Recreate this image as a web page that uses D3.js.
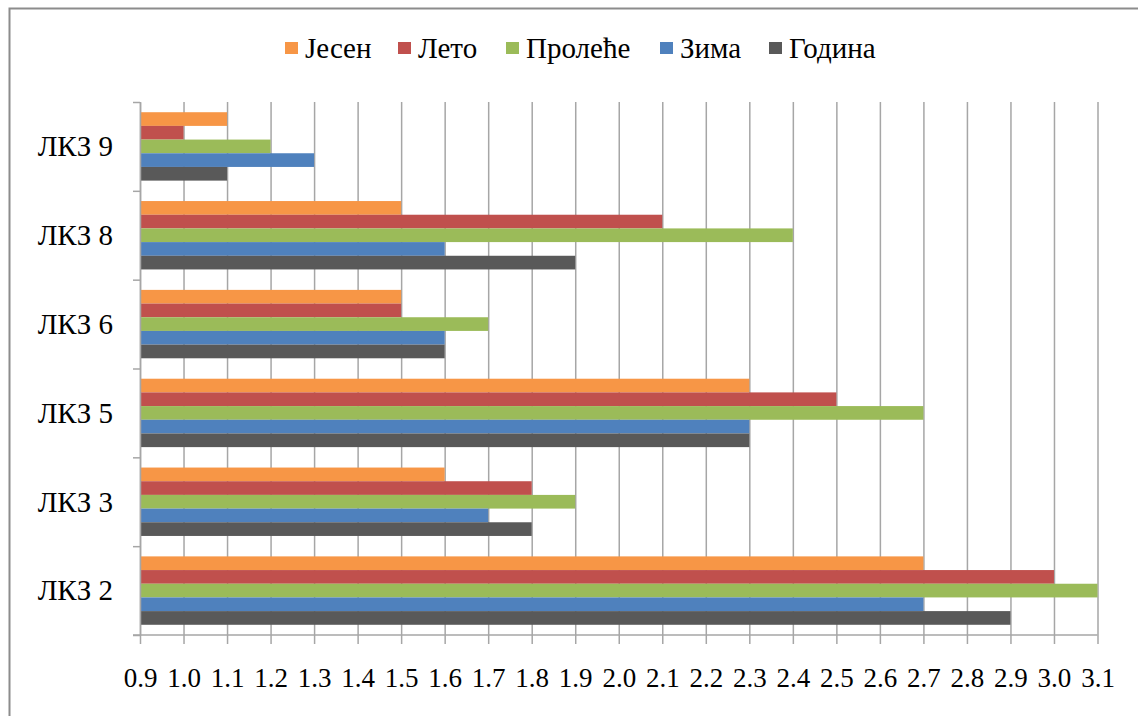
<!DOCTYPE html>
<html>
<head>
<meta charset="utf-8">
<script src="https://cdn.jsdelivr.net/npm/d3@7"></script>
<style>
  body { margin: 0; background: #fff; }
</style>
</head>
<body>
<div id="chart"></div>
<script>
// categories top to bottom
const categories = ["ЛКЗ 9", "ЛКЗ 8", "ЛКЗ 6", "ЛКЗ 5", "ЛКЗ 3", "ЛКЗ 2"];
const seriesNames = ["Јесен", "Лето", "Пролеће", "Зима", "Година"];
const seriesColors = ["#F79646", "#C0504D", "#9BBB59", "#4F81BD", "#595959"];

// values per series, same order as categories
const jesen   = [1.1, 1.5, 1.5, 2.3, 1.6, 2.7];
const leto    = [1.0, 2.1, 1.5, 2.5, 1.8, 3.0];
const prolece = [1.2, 2.4, 1.7, 2.7, 1.9, 3.1];
const zima    = [1.3, 1.6, 1.6, 2.3, 1.7, 2.7];
const godina  = [1.1, 1.9, 1.6, 2.3, 1.8, 2.9];
const seriesValues = [jesen, leto, prolece, zima, godina];

const xTicks = [0.9, 1.0, 1.1, 1.2, 1.3, 1.4, 1.5, 1.6, 1.7, 1.8, 1.9, 2.0,
                2.1, 2.2, 2.3, 2.4, 2.5, 2.6, 2.7, 2.8, 2.9, 3.0, 3.1];

const width = 1138, height = 716;
const plot = {left: 140, right: 1097.5, top: 102, bottom: 635};

let svg = d3.select("#chart")
    .append("svg")
    .attr("width", width)
    .attr("height", height);

// outer chart border (runs off the right/bottom edge)
svg.append("rect")
    .attr("x", 9.5).attr("y", 8.5)
    .attr("width", 1200).attr("height", 800)
    .attr("fill", "none")
    .attr("stroke", "#8c8c8c")
    .attr("stroke-width", 2);

let x = d3.scaleLinear()
    .domain([0.9, 3.1])
    .range([plot.left, plot.right]);

let y0 = d3.scaleBand()
    .domain(categories)
    .range([plot.top, plot.bottom])
    .paddingInner(0.23)
    .paddingOuter(0.115);

let y1 = d3.scaleBand()
    .domain(seriesNames)
    .range([0, y0.bandwidth()]);

// boundaries between categories, for the left axis ticks
let yEdge = d3.scaleLinear()
    .domain([0, categories.length])
    .range([plot.top, plot.bottom]);

// vertical gridlines
let grid = svg.append("g")
    .attr("transform", `translate(0, ${plot.bottom})`)
    .call(d3.axisBottom(x).tickValues(xTicks).tickSize(-(plot.bottom - plot.top)).tickFormat(""));
grid.select(".domain").remove();
grid.selectAll("line").attr("stroke", "#a6a6a6").attr("stroke-width", 1.5);

// bars
seriesNames.forEach(function(name, si) {
    svg.append("g").selectAll("rect")
        .data(seriesValues[si])
        .enter()
        .append("rect")
        .attr("fill", seriesColors[si])
        .attr("x", x(0.9))
        .attr("y", function(d, i) { return y0(categories[i]) + y1(name); })
        .attr("width", function(d) { return x(d) - x(0.9); })
        .attr("height", y1.bandwidth());
});

// bottom axis
let xAxis = svg.append("g")
    .attr("transform", `translate(0, ${plot.bottom})`)
    .call(d3.axisBottom(x).tickValues(xTicks).tickSize(9).tickPadding(24).tickSizeOuter(0)
        .tickFormat(d3.format(".1f")));
xAxis.select(".domain").attr("stroke", "#a6a6a6").attr("stroke-width", 1.5)
    .attr("d", `M${plot.left - 7},0H${plot.right}`);
xAxis.selectAll("line").attr("stroke", "#a6a6a6").attr("stroke-width", 1.5);
xAxis.selectAll("text")
    .style("font-family", "Liberation Serif")
    .style("font-size", "27px")
    .attr("fill", "#000");

// left axis (ticks at category boundaries)
let yAxis = svg.append("g")
    .attr("transform", `translate(${plot.left}, 0)`)
    .call(d3.axisLeft(yEdge).ticks(categories.length).tickSize(7).tickSizeOuter(0).tickFormat(""));
yAxis.select(".domain").attr("stroke", "#a6a6a6").attr("stroke-width", 1.5);
yAxis.selectAll("line").attr("stroke", "#a6a6a6").attr("stroke-width", 1.5);

// category labels
svg.append("g").selectAll("text")
    .data(categories)
    .enter()
    .append("text")
    .attr("x", 113)
    .attr("y", function(d) { return y0(d) + y0.bandwidth() / 2; })
    .attr("dy", "0.34em")
    .style("font-family", "Liberation Serif")
    .style("text-anchor", "end")
    .style("font-size", "29px")
    .text(function(d) { return d; });

// legend
const legendX = [285, 398, 506, 660, 769];
let legend = svg.append("g").selectAll("g")
    .data(seriesNames)
    .enter()
    .append("g")
    .attr("transform", function(d, i) { return `translate(${legendX[i]}, 48)`; });
legend.append("rect")
    .attr("x", 0).attr("y", -6)
    .attr("width", 13).attr("height", 12)
    .attr("fill", function(d, i) { return seriesColors[i]; });
legend.append("text")
    .attr("x", 20)
    .attr("dy", "0.34em")
    .style("font-family", "Liberation Serif")
    .style("font-size", "29px")
    .text(function(d) { return d; });
</script>
</body>
</html>
